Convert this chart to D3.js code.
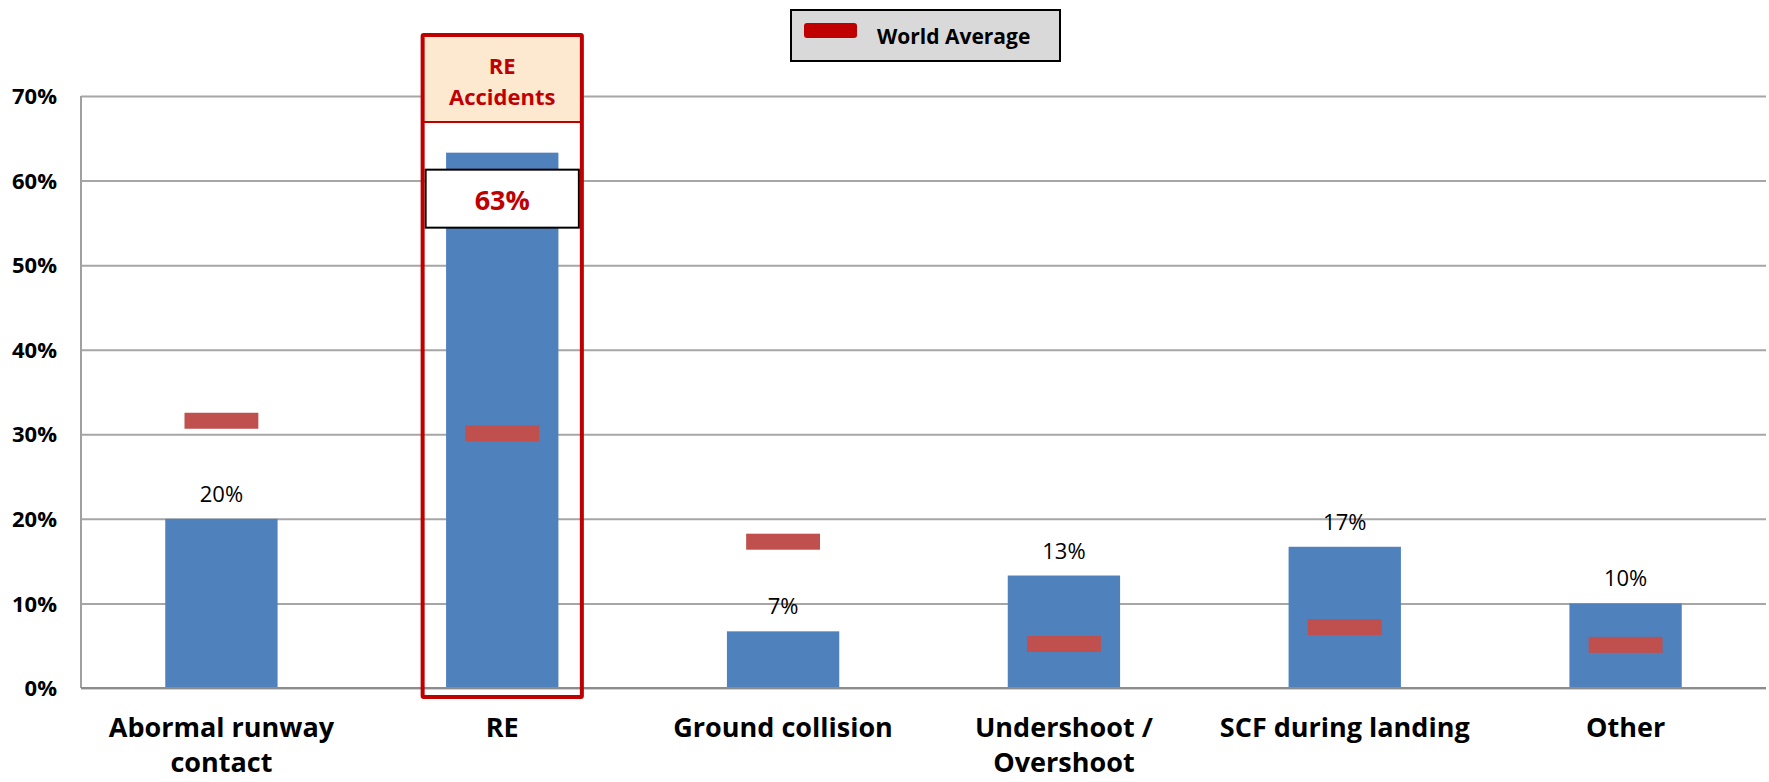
<!DOCTYPE html>
<html>
<head>
<meta charset="utf-8">
<script src="https://cdn.jsdelivr.net/npm/d3@7"></script>
<style>
  body { margin: 0; background: #fff; }
  text { font-family: "Open Sans", sans-serif; }
</style>
</head>
<body>
<div id="chart"></div>
<script>
// categories and values
const categories = ["Abormal runway contact", "RE", "Ground collision", "Undershoot / Overshoot", "SCF during landing", "Other"]
const categoryLines = [["Abormal runway", "contact"], ["RE"], ["Ground collision"], ["Undershoot /", "Overshoot"], ["SCF during landing"], ["Other"]]
const shareValues = [20, 63.3, 6.7, 13.3, 16.7, 10]
const shareLabels = ["20%", "63%", "7%", "13%", "17%", "10%"]
const worldAverage = [31.6, 30.1, 17.3, 5.2, 7.2, 5.1]
const yTicks = [0, 10, 20, 30, 40, 50, 60, 70]
const highlightCategory = "RE"

const W = 1769, H = 782
const margin = {top: 96, right: 3, bottom: 94, left: 81}
const width = W - margin.left - margin.right,
      height = H - margin.top - margin.bottom

const svg = d3.select("#chart")
  .append("svg")
    .attr("width", W)
    .attr("height", H)

const g = svg.append("g")
    .attr("transform", `translate(${margin.left}, ${margin.top})`)

const x = d3.scaleBand()
  .domain(categories)
  .range([0, width])
  .padding(0)

const y = d3.scaleLinear()
  .domain([0, 70])
  .range([height, 0])

// gridlines + y labels
const yAxisG = g.append("g")
  .call(d3.axisLeft(y).tickValues(yTicks).tickSize(-width).tickFormat(d => d + "%"))
yAxisG.select(".domain").remove()
yAxisG.selectAll(".tick line")
  .attr("stroke", "#a6a6a6")
  .attr("stroke-width", 2)
yAxisG.selectAll(".tick text")
  .attr("x", -24)
  .attr("dy", "0.35em")
  .style("font-size", "22px")
  .style("font-weight", "bold")
  .style("fill", "#000")

// left axis line
g.append("line")
  .attr("x1", 0).attr("x2", 0)
  .attr("y1", y(70)).attr("y2", y(0))
  .attr("stroke", "#a0a0a0").attr("stroke-width", 2)

const barW = x.bandwidth() * 0.4
const markW = x.bandwidth() * 0.263
const markH = 16

// bars
g.selectAll(".bar")
  .data(categories)
  .join("rect")
    .attr("class", "bar")
    .attr("x", d => x(d) + (x.bandwidth() - barW) / 2)
    .attr("y", (d, i) => y(shareValues[i]))
    .attr("width", barW)
    .attr("height", (d, i) => y(0) - y(shareValues[i]))
    .attr("fill", "#4f81bd")

// bottom axis line drawn over the bars
g.append("line")
  .attr("x1", 0).attr("x2", width)
  .attr("y1", y(0)).attr("y2", y(0))
  .attr("stroke", "#8c8c8c").attr("stroke-width", 2)

// world average markers
g.selectAll(".avg")
  .data(categories)
  .join("rect")
    .attr("class", "avg")
    .attr("x", d => x(d) + (x.bandwidth() - markW) / 2)
    .attr("y", (d, i) => y(worldAverage[i]) - markH / 2)
    .attr("width", markW)
    .attr("height", markH)
    .attr("fill", "#c0504d")

// value labels (the highlighted one gets its own box)
g.selectAll(".val")
  .data(categories.filter(d => d != highlightCategory))
  .join("text")
    .attr("class", "val")
    .attr("x", d => x(d) + x.bandwidth() / 2)
    .attr("y", d => y(shareValues[categories.indexOf(d)]) - 17)
    .attr("text-anchor", "middle")
    .style("font-size", "22px")
    .style("fill", "#000")
    .text(d => shareLabels[categories.indexOf(d)])

// x category labels
const xl = g.selectAll(".xlab")
  .data(categories)
  .join("text")
    .attr("class", "xlab")
    .attr("x", d => x(d) + x.bandwidth() / 2)
    .attr("y", height + 49)
    .attr("text-anchor", "middle")
    .style("font-size", "27px")
    .style("font-weight", "bold")
    .style("fill", "#000")
xl.selectAll("tspan")
  .data((d, i) => categoryLines[i])
  .join("tspan")
    .attr("x", function() { return this.parentNode.getAttribute("x") })
    .attr("dy", (d, i) => i == 0 ? 0 : 35)
    .text(d => d)

// highlight box round RE
const hi = categories.indexOf(highlightCategory)
const cx = x(highlightCategory) + x.bandwidth() / 2
const boxW = x.bandwidth() * 0.567
const boxTop = y(70) - 61, headerBottom = y(70) + 26, boxBottom = y(0) + 9

g.append("rect")
  .attr("x", cx - boxW / 2).attr("y", boxTop)
  .attr("width", boxW).attr("height", headerBottom - boxTop)
  .attr("fill", "#fde9d0")
g.append("line")
  .attr("x1", cx - boxW / 2).attr("x2", cx + boxW / 2)
  .attr("y1", headerBottom).attr("y2", headerBottom)
  .attr("stroke", "#c00000").attr("stroke-width", 2)
g.append("text")
  .attr("x", cx).attr("y", boxTop + 39)
  .attr("text-anchor", "middle")
  .style("font-size", "22px").style("font-weight", "bold").style("fill", "#c00000")
  .text("RE")
g.append("text")
  .attr("x", cx).attr("y", boxTop + 70)
  .attr("text-anchor", "middle")
  .style("font-size", "22px").style("font-weight", "bold").style("fill", "#c00000")
  .text("Accidents")

// value box
const vTop = y(shareValues[hi]) + 17
g.append("rect")
  .attr("x", cx - boxW / 2 + 3).attr("y", vTop)
  .attr("width", boxW - 6).attr("height", 58)
  .attr("fill", "#fff").attr("stroke", "#000").attr("stroke-width", 2)
g.append("text")
  .attr("x", cx).attr("y", vTop + 40)
  .attr("text-anchor", "middle")
  .style("font-size", "27px").style("font-weight", "bold").style("fill", "#c00000")
  .text(shareLabels[hi])

g.append("rect")
  .attr("x", cx - boxW / 2).attr("y", boxTop)
  .attr("width", boxW).attr("height", boxBottom - boxTop)
  .attr("fill", "none").attr("stroke", "#c00000").attr("stroke-width", 4)
  .attr("rx", 1)

// legend
const lg = svg.append("g").attr("transform", "translate(791, 10)")
lg.append("rect")
  .attr("width", 269).attr("height", 51)
  .attr("fill", "#d9d9d9").attr("stroke", "#000").attr("stroke-width", 2)
lg.append("rect")
  .attr("x", 13).attr("y", 13).attr("width", 53).attr("height", 15).attr("rx", 3)
  .attr("fill", "#c00000")
lg.append("text")
  .attr("x", 86).attr("y", 34)
  .style("font-size", "21px").style("font-weight", "bold").style("fill", "#000")
  .text("World Average")
</script>
</body>
</html>
